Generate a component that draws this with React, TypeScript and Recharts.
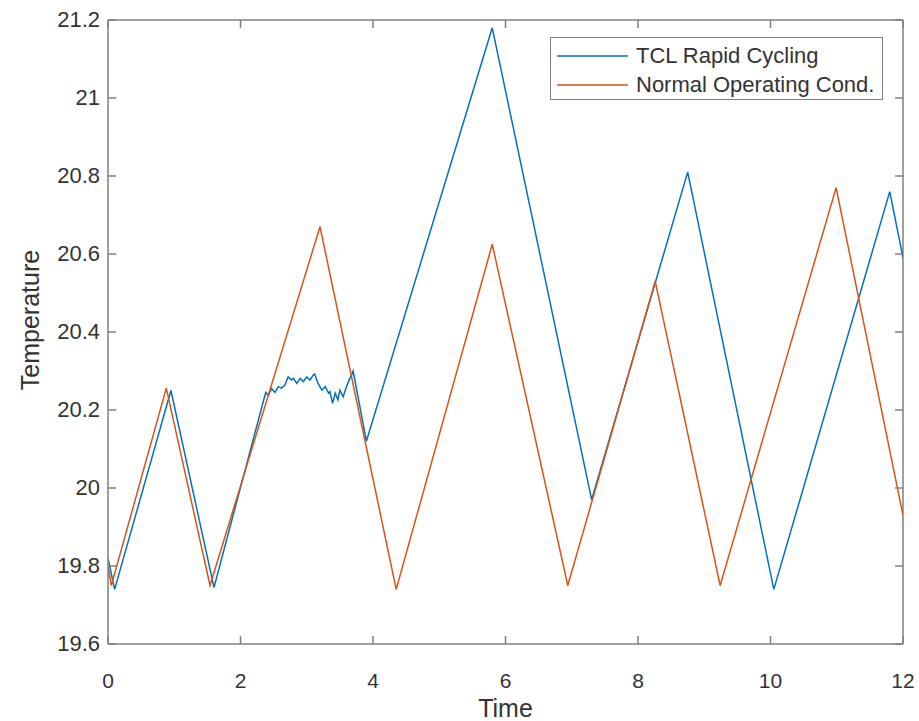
import React from 'react';
import { LineChart, Line, XAxis, YAxis, ReferenceLine, Legend } from 'recharts';

// TCL rapid cycling (blue)
const tclTime = [
  0, 0.1, 0.95, 1.6, 2.38, 2.42, 2.47, 2.52, 2.57, 2.62, 2.67, 2.7, 2.72, 2.77, 2.8, 2.85, 2.9,
  2.95, 3.0, 3.05, 3.1, 3.12, 3.17, 3.23, 3.28, 3.33, 3.35, 3.39, 3.43, 3.47, 3.5, 3.55, 3.6, 3.65,
  3.68, 3.7, 3.9, 5.8, 7.3, 8.75, 10.05, 11.8, 12,
];
const tclTemp = [
  19.82, 19.74, 20.25, 19.745, 20.245, 20.238, 20.255, 20.245, 20.26, 20.256, 20.264, 20.277,
  20.285, 20.277, 20.281, 20.268, 20.281, 20.273, 20.285, 20.277, 20.29, 20.292, 20.268, 20.251, 20.26,
  20.243, 20.247, 20.217, 20.243, 20.226, 20.251, 20.234, 20.26, 20.281, 20.29, 20.3, 20.12, 21.18,
  19.97, 20.81, 19.74, 20.76, 20.59,
];

// Normal operating condition (orange)
const normalTime = [0, 0.05, 0.88, 1.54, 3.2, 4.35, 5.8, 6.94, 8.26, 9.24, 10.99, 12];
const normalTemp = [19.8, 19.75, 20.256, 19.75, 20.67, 19.74, 20.625, 19.75, 20.53, 19.75, 20.77, 19.93];

const xTicks = [0, 2, 4, 6, 8, 10, 12];
const yTicks = [19.6, 19.8, 20, 20.2, 20.4, 20.6, 20.8, 21, 21.2];

const seriesNames = ['TCL Rapid Cycling', 'Normal Operating Cond.'];
const seriesColors = ['#0072BD', '#D95319'];

const tclData = tclTime.map((t, i) => ({ t, temp: tclTemp[i] }));
const normalData = normalTime.map((t, i) => ({ t, temp: normalTemp[i] }));

const W = 919;
const H = 721;
const MARGIN = { top: 20, right: 16, left: 0, bottom: 0 };
const Y_AXIS_W = 108;
const X_AXIS_H = 77;
const PLOT_TOP = MARGIN.top;
const PLOT_RIGHT = W - MARGIN.right;
const TICK_LEN = 8;

const FONT = '"Liberation Sans", Arial, Helvetica, sans-serif';
const AXIS_COLOR = '#7f7f7f';
const TEXT_COLOR = '#333333';

const XTick = (props: any) => {
  const { x, y, payload } = props;
  return (
    <g>
      <line x1={x} x2={x} y1={y} y2={y - TICK_LEN} stroke={AXIS_COLOR} strokeWidth={1.5} />
      <line x1={x} x2={x} y1={PLOT_TOP} y2={PLOT_TOP + TICK_LEN} stroke={AXIS_COLOR} strokeWidth={1.5} />
      <text x={x} y={y + 44} textAnchor="middle" fontFamily={FONT} fontSize={21} fill={TEXT_COLOR}>
        {payload.value}
      </text>
    </g>
  );
};

const YTick = (props: any) => {
  const { x, y, payload } = props;
  return (
    <g>
      <line x1={x} x2={x + TICK_LEN} y1={y} y2={y} stroke={AXIS_COLOR} strokeWidth={1.5} />
      <line x1={PLOT_RIGHT} x2={PLOT_RIGHT - TICK_LEN} y1={y} y2={y} stroke={AXIS_COLOR} strokeWidth={1.5} />
      <text x={x - 8} y={y + 7} textAnchor="end" fontFamily={FONT} fontSize={22} fill={TEXT_COLOR}>
        {String(payload.value)}
      </text>
    </g>
  );
};

const XLabel = (props: any) => {
  const { viewBox } = props;
  return (
    <text
      x={viewBox.x + viewBox.width / 2}
      y={viewBox.y + 73}
      textAnchor="middle"
      fontFamily={FONT}
      fontSize={25}
      fill={TEXT_COLOR}
    >
      Time
    </text>
  );
};

const YLabel = (props: any) => {
  const { viewBox } = props;
  const cx = viewBox.x + 30;
  const cy = viewBox.y + viewBox.height / 2 - 12;
  return (
    <text
      x={cx}
      y={cy}
      transform={`rotate(-90, ${cx}, ${cy})`}
      textAnchor="middle"
      dominantBaseline="central"
      fontFamily={FONT}
      fontSize={25}
      fill={TEXT_COLOR}
    >
      Temperature
    </text>
  );
};

const LegendBox = () => (
  <div
    style={{
      width: 333,
      boxSizing: 'border-box',
      border: `1.5px solid ${AXIS_COLOR}`,
      background: '#fff',
      padding: '3px 0 0 0',
      fontFamily: FONT,
      fontSize: 22,
      color: TEXT_COLOR,
    }}
  >
    {seriesNames.map((name, i) => (
      <div key={name} style={{ display: 'flex', alignItems: 'center', height: 29 }}>
        <svg width={71} height={4} style={{ marginLeft: 6, marginRight: 8 }}>
          <line x1={0} x2={71} y1={2} y2={2} stroke={seriesColors[i]} strokeWidth={1.5} />
        </svg>
        <span style={{ whiteSpace: 'nowrap' }}>{name}</span>
      </div>
    ))}
  </div>
);

export default function App() {
  return (
    <div style={{ position: 'absolute', left: 0, top: 0, width: W, height: H, background: '#fff' }}>
      <LineChart width={W} height={H} margin={MARGIN}>
        <XAxis
          dataKey="t"
          type="number"
          domain={[0, 12]}
          ticks={xTicks}
          allowDataOverflow
          height={X_AXIS_H}
          tickSize={0}
          tickMargin={0}
          tickLine={false}
          tick={<XTick />}
          axisLine={{ stroke: AXIS_COLOR, strokeWidth: 1.5 }}
          label={<XLabel />}
        />
        <YAxis
          dataKey="temp"
          type="number"
          domain={[19.6, 21.2]}
          ticks={yTicks}
          allowDataOverflow
          width={Y_AXIS_W}
          tickSize={0}
          tickMargin={0}
          tickLine={false}
          tick={<YTick />}
          axisLine={{ stroke: AXIS_COLOR, strokeWidth: 1.5 }}
          label={<YLabel />}
        />
        <ReferenceLine y={21.2} stroke={AXIS_COLOR} strokeWidth={1.5} />
        <ReferenceLine x={12} stroke={AXIS_COLOR} strokeWidth={1.5} />
        <Line
          data={tclData}
          dataKey="temp"
          name={seriesNames[0]}
          type="linear"
          stroke={seriesColors[0]}
          strokeWidth={1.5}
          dot={false}
          isAnimationActive={false}
        />
        <Line
          data={normalData}
          dataKey="temp"
          name={seriesNames[1]}
          type="linear"
          stroke={seriesColors[1]}
          strokeWidth={1.5}
          dot={false}
          isAnimationActive={false}
        />
        <Legend
          layout="vertical"
          align="center"
          verticalAlign="middle"
          content={<LegendBox />}
          wrapperStyle={{ left: 550, top: 37, width: 333 }}
        />
      </LineChart>
    </div>
  );
}
